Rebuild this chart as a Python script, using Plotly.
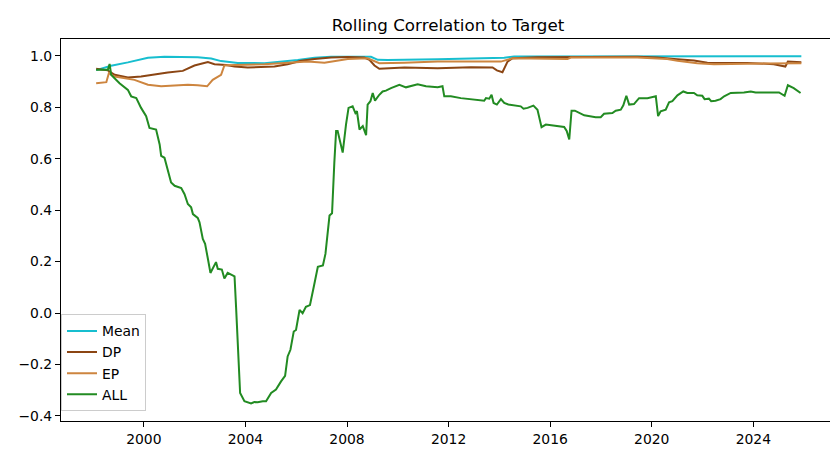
import pandas as pd
import plotly.graph_objects as go

# ---- data (decimal years) ----
mean_t = [1998.12, 1998.71, 1999.37, 2000.16, 2000.81, 2002.12, 2002.65, 2003.04, 2003.70,
          2004.75, 2006.06, 2006.72, 2007.37, 2008.68, 2008.94, 2009.21, 2009.60, 2011.57,
          2014.19, 2014.58, 2020.00, 2025.89]
mean_v = [0.945, 0.962, 0.975, 0.993, 0.997, 0.995, 0.990, 0.980, 0.973,
          0.972, 0.984, 0.993, 0.997, 0.999, 0.997, 0.985, 0.984, 0.987,
          0.993, 0.998, 0.999, 0.999]

dp_t = [1998.12, 1998.58, 1998.85, 1999.37, 1999.89, 2000.42, 2000.94, 2001.53, 2001.99,
        2002.52, 2002.78, 2003.24, 2003.57, 2004.09, 2005.14, 2005.66, 2006.19, 2006.72,
        2007.37, 2008.03, 2008.68, 2008.88, 2009.08, 2009.27, 2009.60, 2010.26, 2011.57,
        2012.88, 2013.73, 2013.90, 2014.12, 2014.32, 2014.52, 2015.50, 2019.43, 2020.22,
        2020.88, 2021.66, 2022.19, 2023.76, 2024.81, 2025.26, 2025.36, 2025.89]
dp_v = [0.950, 0.944, 0.927, 0.916, 0.920, 0.929, 0.936, 0.942, 0.963,
        0.976, 0.968, 0.965, 0.959, 0.955, 0.959, 0.968, 0.981, 0.988,
        0.994, 0.996, 0.994, 0.985, 0.963, 0.950, 0.952, 0.955, 0.952,
        0.956, 0.955, 0.944, 0.937, 0.978, 0.991, 0.995, 0.997, 0.994,
        0.988, 0.982, 0.974, 0.973, 0.968, 0.959, 0.978, 0.976]

ep_t = [1998.12, 1998.52, 1998.62, 1998.85, 1999.63, 2000.16, 2000.68, 2001.21, 2001.73,
        2002.12, 2002.49, 2002.71, 2003.04, 2003.17, 2003.57, 2004.75, 2005.66, 2006.45,
        2007.11, 2007.63, 2008.03, 2008.81, 2009.08, 2009.27, 2010.26, 2011.57, 2014.06,
        2014.32, 2014.52, 2016.68, 2016.81, 2019.43, 2020.61, 2021.01, 2021.79, 2022.45,
        2024.81, 2025.89]
ep_v = [0.894, 0.898, 0.933, 0.920, 0.907, 0.888, 0.882, 0.884, 0.888,
        0.886, 0.882, 0.907, 0.927, 0.963, 0.965, 0.968, 0.974, 0.978,
        0.974, 0.981, 0.988, 0.991, 0.978, 0.972, 0.974, 0.978, 0.978,
        0.985, 0.991, 0.988, 0.994, 0.994, 0.988, 0.981, 0.972, 0.968,
        0.972, 0.972]

# ALL series, written in rows of (dates) / (values) with matching lengths
all_t = [
    1998.12, 1998.58, 1998.65, 1998.71, 1999.04, 1999.37, 1999.50, 1999.70, 1999.89, 2000.09,
    2000.22, 2000.48, 2000.62, 2000.68, 2000.81, 2000.92, 2001.07, 2001.21, 2001.47, 2001.60,
    2001.73, 2001.86, 2001.93, 2002.12, 2002.19, 2002.32, 2002.41, 2002.52, 2002.62, 2002.84,
    2002.91, 2003.07, 2003.17, 2003.30, 2003.57, 2003.63, 2003.70, 2003.79, 2003.96, 2004.09,
    2004.22, 2004.35, 2004.48, 2004.68, 2004.81, 2005.01, 2005.20, 2005.40, 2005.56, 2005.66,
    2005.77, 2005.90, 2005.99, 2006.13, 2006.25, 2006.38, 2006.54, 2006.69, 2006.85, 2007.05,
    2007.15, 2007.31, 2007.41, 2007.50, 2007.57, 2007.63, 2007.83, 2007.96, 2008.06, 2008.22,
    2008.33, 2008.39, 2008.49, 2008.62, 2008.75, 2008.81, 2008.92, 2009.01, 2009.10, 2009.27,
    2009.40, 2009.53, 2009.73, 2010.06, 2010.32, 2010.78, 2011.11, 2011.57, 2011.76, 2011.83,
    2012.09, 2012.48, 2013.40, 2013.47, 2013.60, 2013.69, 2013.77, 2013.90, 2014.06, 2014.19,
    2014.35, 2014.84, 2014.95, 2015.11, 2015.34, 2015.50, 2015.66, 2015.83, 2016.02, 2016.22,
    2016.55, 2016.65, 2016.75, 2016.84, 2016.97, 2017.34, 2017.53, 2017.79, 2017.99, 2018.12,
    2018.45, 2018.58, 2018.78, 2018.88, 2019.00, 2019.11, 2019.30, 2019.50, 2019.83, 2019.96,
    2020.16, 2020.25, 2020.35, 2020.55, 2020.68, 2020.81, 2021.01, 2021.24, 2021.40, 2021.66,
    2021.79, 2021.99, 2022.08, 2022.25, 2022.34, 2022.51, 2022.71, 2022.85, 2023.11, 2023.63,
    2023.90, 2024.09, 2025.01, 2025.23, 2025.36, 2025.59, 2025.86]
all_v = [
    0.946, 0.946, 0.969, 0.927, 0.894, 0.868, 0.843, 0.836, 0.798, 0.766,
    0.720, 0.714, 0.656, 0.611, 0.604, 0.559, 0.508, 0.495, 0.486, 0.462,
    0.424, 0.411, 0.385, 0.370, 0.353, 0.288, 0.269, 0.211, 0.156, 0.198,
    0.172, 0.169, 0.134, 0.156, 0.143, 0.024, -0.104, -0.311, -0.343, -0.346,
    -0.352, -0.346, -0.347, -0.343, -0.343, -0.311, -0.298, -0.266, -0.244, -0.169,
    -0.143, -0.072, -0.066, 0.012, -0.001, 0.024, 0.031, 0.102, 0.180, 0.185,
    0.230, 0.379, 0.388, 0.585, 0.708, 0.708, 0.624, 0.733, 0.798, 0.804,
    0.778, 0.785, 0.714, 0.727, 0.692, 0.811, 0.824, 0.856, 0.826, 0.849,
    0.862, 0.865, 0.875, 0.888, 0.878, 0.890, 0.882, 0.878, 0.882, 0.843,
    0.843, 0.836, 0.826, 0.836, 0.834, 0.849, 0.817, 0.811, 0.832, 0.817,
    0.811, 0.804, 0.795, 0.798, 0.807, 0.791, 0.723, 0.733, 0.731, 0.727,
    0.724, 0.708, 0.675, 0.787, 0.787, 0.769, 0.766, 0.762, 0.762, 0.775,
    0.778, 0.787, 0.791, 0.808, 0.845, 0.811, 0.813, 0.836, 0.836, 0.839,
    0.843, 0.766, 0.785, 0.791, 0.820, 0.824, 0.847, 0.862, 0.856, 0.856,
    0.847, 0.845, 0.832, 0.834, 0.824, 0.826, 0.832, 0.843, 0.856, 0.858,
    0.862, 0.858, 0.858, 0.845, 0.886, 0.875, 0.856]

series_names = ["Mean", "DP", "EP", "ALL"]
colors = ["#17becf", "#8B4513", "#CD853F", "#228B22"]
y_ticks = [-0.4, -0.2, 0.0, 0.2, 0.4, 0.6, 0.8, 1.0]


def to_dates(ts):
    out = []
    for t in ts:
        y = int(t)
        start = pd.Timestamp(year=y, month=1, day=1)
        end = pd.Timestamp(year=y + 1, month=1, day=1)
        out.append(start + (end - start) * (t - y))
    return out


data = [(mean_t, mean_v), (dp_t, dp_v), (ep_t, ep_v), (all_t, all_v)]

fig = go.Figure()
for (t, v), name, c in zip(data, series_names, colors):
    fig.add_trace(go.Scatter(x=to_dates(t), y=v, mode="lines", name=name,
                             line=dict(color=c, width=2)))

font = "DejaVu Sans, Arial, sans-serif"
fig.update_layout(
    width=838, height=449,
    margin=dict(l=53, r=10, t=31, b=34),
    paper_bgcolor="white", plot_bgcolor="white",
    font=dict(family=font, size=13.9, color="black"),
    title=dict(text="Rolling Correlation to Target", x=0.5, xref="paper",
               y=1 - 17 / 449, yref="container", xanchor="center", yanchor="middle",
               font=dict(size=16.7, color="black", family=font)),
    showlegend=True,
    legend=dict(x=0.0, y=0.025, xanchor="left", yanchor="bottom",
                bgcolor="rgba(255,255,255,0.8)", bordercolor="#cccccc", borderwidth=1,
                font=dict(size=13.9, family=font), itemwidth=30, tracegroupgap=0),
)
fig.update_xaxes(type="date", range=["1996-09-26", "2027-03-21"],
                 tick0="2000-01-01", dtick="M48", tickformat="%Y",
                 showgrid=False, zeroline=False, showline=True, mirror=True,
                 linecolor="black", linewidth=1.1, ticks="outside", ticklen=5,
                 tickwidth=1.1, tickcolor="black")
fig.update_yaxes(range=[-0.420, 1.066], tickvals=y_ticks, tickformat=".1f",
                 showgrid=False, zeroline=False, showline=True, mirror=True,
                 linecolor="black", linewidth=1.1, ticks="outside", ticklen=5,
                 tickwidth=1.1, tickcolor="black")
fig.write_html("out.html")
